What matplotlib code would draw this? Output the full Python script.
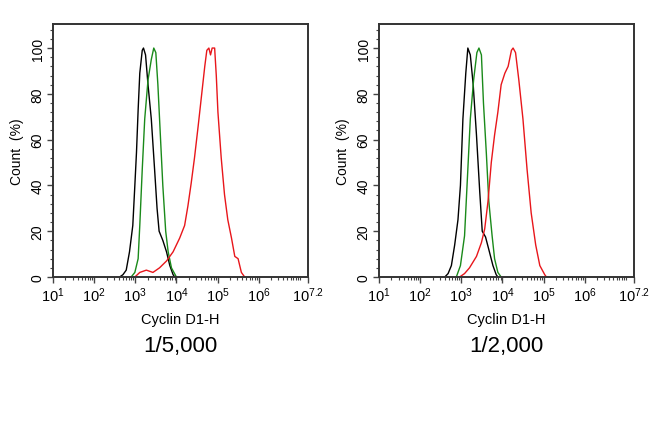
import matplotlib
matplotlib.use("Agg")
import matplotlib.pyplot as plt
from matplotlib.ticker import FixedLocator, MultipleLocator, NullFormatter
import numpy as np

plt.rcParams['font.family'] = ['Liberation Sans', 'DejaVu Sans']
plt.rcParams['mathtext.fontset'] = 'custom'
plt.rcParams['mathtext.rm'] = 'Liberation Sans'
plt.rcParams['mathtext.it'] = 'Liberation Sans'

# histogram outlines, x in log10(intensity), y in count %
# panel 1: 1/5,000
p1_black_x = [2.62, 2.70, 2.78, 2.86, 2.94, 2.99, 3.03, 3.07, 3.11, 3.17, 3.20, 3.25, 3.31, 3.39, 3.47, 3.53, 3.58, 3.67, 3.76, 3.84, 3.92, 3.96]
p1_black_y = [0, 1, 3, 11, 22.5, 40, 54.5, 73, 89, 99, 100, 97, 84, 69, 47, 30, 20, 16, 11, 5, 1, 0]
p1_green_x = [2.90, 2.99, 3.07, 3.11, 3.17, 3.23, 3.31, 3.39, 3.45, 3.50, 3.55, 3.61, 3.67, 3.74, 3.80, 3.88, 4.00]
p1_green_y = [0, 2, 8, 22.5, 47, 69, 86, 95, 100, 98, 84, 62, 40, 20, 11, 4, 0]
p1_red_x = [2.99, 3.11, 3.27, 3.43, 3.59, 3.76, 3.92, 4.08, 4.20, 4.28, 4.36, 4.44, 4.53, 4.61, 4.69, 4.74, 4.79, 4.83, 4.87, 4.93, 4.97, 5.01, 5.09, 5.17, 5.25, 5.34, 5.42, 5.50, 5.58, 5.66]
p1_red_y = [0, 2, 3, 2, 4, 7, 11, 17, 22.5, 31, 41, 52, 66, 79, 92, 99, 100, 97, 100, 100, 88, 72, 52, 36, 25, 17, 9, 8, 2, 0]

# panel 2: 1/2,000
p2_black_x = [2.60, 2.68, 2.76, 2.84, 2.92, 2.98, 3.04, 3.11, 3.16, 3.22, 3.29, 3.37, 3.45, 3.51, 3.59, 3.67, 3.77, 3.85, 3.89]
p2_black_y = [0, 1.5, 5, 14, 25, 40, 69, 89, 100, 97, 84, 62, 37, 20, 17.5, 12, 5, 1, 0]
p2_green_x = [2.88, 2.98, 3.08, 3.16, 3.22, 3.30, 3.38, 3.43, 3.49, 3.54, 3.61, 3.67, 3.75, 3.81, 3.89, 3.97]
p2_green_y = [0, 5, 18, 47, 69, 86, 98, 100, 97, 76, 54, 33, 18, 8, 2, 0]
p2_red_x = [2.96, 3.08, 3.20, 3.37, 3.49, 3.57, 3.65, 3.73, 3.81, 3.89, 3.97, 4.06, 4.14, 4.22, 4.26, 4.32, 4.40, 4.50, 4.60, 4.70, 4.81, 4.91, 5.03, 5.07]
p2_red_y = [0, 1.5, 4, 9, 15, 21, 33, 50, 62, 72, 84, 89, 92, 99, 100, 98, 86, 69, 47, 28, 14, 5, 1, 0]

panels = [
    ("1/5,000", [(p1_black_x, p1_black_y, "black"), (p1_green_x, p1_green_y, "#1a8a1a"), (p1_red_x, p1_red_y, "#e8161b")]),
    ("1/2,000", [(p2_black_x, p2_black_y, "black"), (p2_green_x, p2_green_y, "#1a8a1a"), (p2_red_x, p2_red_y, "#e8161b")]),
]

x_label_exps = [1, 2, 3, 4, 5, 6, 7.2]

fig = plt.figure(figsize=(6.5, 4.27), dpi=100)
lefts = [53 / 650, 379 / 650]

for left, (title, curves) in zip(lefts, panels):
    ax = fig.add_axes([left, 1 - 278 / 427, 255 / 650, 253 / 427])
    for xs, ys, c in curves:
        ax.plot(10 ** np.array(xs), ys, color=c, lw=1.0)
    ax.set_xscale("log")
    ax.set_xlim(10 ** 1, 10 ** 7.2)
    ax.set_ylim(0, 110.5)

    # x ticks
    ax.xaxis.set_major_locator(FixedLocator([10 ** e for e in x_label_exps]))
    ax.set_xticklabels([r"$10^{%s}$" % (str(e) if e != int(e) else str(int(e))) for e in x_label_exps],
                       fontsize=10.5)
    minors = [m * 10 ** d for d in range(1, 8) for m in range(2, 10) if m * 10 ** d < 10 ** 7.2]
    minors.append(10 ** 7)
    ax.xaxis.set_minor_locator(FixedLocator(minors))
    ax.xaxis.set_minor_formatter(NullFormatter())

    # y ticks
    ax.yaxis.set_minor_locator(MultipleLocator(4))
    ax.set_yticks([0, 20, 40, 60, 80, 100])
    ax.set_yticklabels(["0", "20", "40", "60", "80", "100"], rotation=90, va="center", fontsize=10)

    ax.tick_params(which="major", direction="out", length=4, width=1, color="#444444", pad=2)
    ax.tick_params(which="minor", direction="out", length=2.5, width=0.8, color="#444444")
    ax.tick_params(axis="x", which="major", pad=2)
    ax.tick_params(top=False, right=False)

    for s in ax.spines.values():
        s.set_linewidth(1.4)
        s.set_color("#333333")

    ax.set_ylabel("Count  (%)", fontsize=10, labelpad=5)
    ax.set_xlabel("Cyclin D1-H", fontsize=10.5, labelpad=6)
    ax.text(0.5, -0.27, title, transform=ax.transAxes, ha="center", va="center", fontsize=16)

fig.savefig("out.png", dpi=100)
